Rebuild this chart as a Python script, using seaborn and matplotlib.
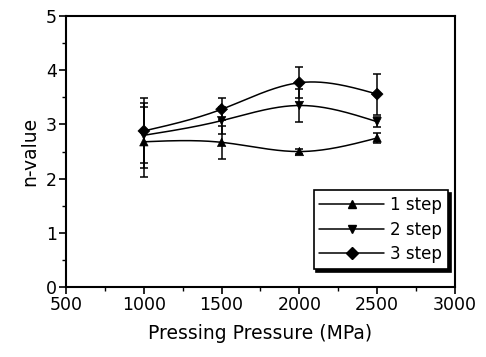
import numpy as np
import pandas as pd
import matplotlib
matplotlib.use("Agg")
import matplotlib.pyplot as plt
from matplotlib.lines import Line2D
import seaborn as sns

pressure = [1000, 1500, 2000, 2500]
step1 = [2.68, 2.67, 2.50, 2.75]
step2 = [2.80, 3.07, 3.35, 3.05]
step3 = [2.88, 3.28, 3.77, 3.56]
err1 = [0.65, 0.30, 0.05, 0.10]
err2 = [0.60, 0.25, 0.30, 0.09]
err3 = [0.60, 0.20, 0.29, 0.38]
labels = ["1 step", "2 step", "3 step"]
markers = ["^", "v", "D"]

sns.set_theme(style="ticks")
plt.rcParams["font.family"] = ["DejaVu Sans"]
plt.rcParams["text.color"] = "black"
plt.rcParams["axes.labelcolor"] = "black"

fig = plt.figure(figsize=(4.86, 3.57), dpi=100)
ax = fig.add_axes([0.136, 0.196, 0.800, 0.759])


def natural_spline(x, y, n=200):
    x = np.asarray(x, float)
    y = np.asarray(y, float)
    k = len(x)
    h = np.diff(x)
    A = np.zeros((k, k))
    b = np.zeros(k)
    A[0, 0] = A[-1, -1] = 1
    for i in range(1, k - 1):
        A[i, i - 1] = h[i - 1]
        A[i, i] = 2 * (h[i - 1] + h[i])
        A[i, i + 1] = h[i]
        b[i] = 6 * ((y[i + 1] - y[i]) / h[i] - (y[i] - y[i - 1]) / h[i - 1])
    M = np.linalg.solve(A, b)
    xs = np.linspace(x[0], x[-1], n)
    ys = np.empty_like(xs)
    for j, xv in enumerate(xs):
        i = min(np.searchsorted(x, xv, side="right") - 1, k - 2)
        t0 = x[i + 1] - xv
        t1 = xv - x[i]
        ys[j] = (M[i] * t0 ** 3 + M[i + 1] * t1 ** 3) / (6 * h[i]) \
            + (y[i] / h[i] - M[i] * h[i] / 6) * t0 \
            + (y[i + 1] / h[i] - M[i + 1] * h[i] / 6) * t1
    return xs, ys


series = [step1, step2, step3]
errs = [err1, err2, err3]
rows = []
for lab, vals in zip(labels, series):
    for p, v in zip(pressure, vals):
        rows.append({"pressure": p, "value": v, "series": lab})
df = pd.DataFrame(rows)

for vals, e in zip(series, errs):
    xs, ys = natural_spline(pressure, vals)
    ax.plot(xs, ys, color="black", lw=1.1, zorder=2)
    ax.errorbar(pressure, vals, yerr=e, fmt="none", ecolor="black",
                elinewidth=1.1, capsize=3, capthick=1.1, zorder=2)

sns.scatterplot(data=df, x="pressure", y="value", style="series",
                markers=dict(zip(labels, markers)), color="black",
                s=36, edgecolor="black", linewidth=0.5, legend=False,
                ax=ax, zorder=3)

ax.set_xlim(500, 3000)
ax.set_ylim(0, 5)
ax.set_xticks([500, 1000, 1500, 2000, 2500, 3000])
ax.set_xticks([750, 1250, 1750, 2250, 2750], minor=True)
ax.set_yticks([0, 1, 2, 3, 4, 5])
ax.set_yticks([0.5, 1.5, 2.5, 3.5, 4.5], minor=True)
ax.tick_params(axis="both", which="major", direction="out", length=5,
               width=1.2, labelsize=12.5, colors="black", pad=1.5)
ax.tick_params(axis="both", which="minor", direction="out", length=3,
               width=1.0, colors="black")
for s in ax.spines.values():
    s.set_linewidth(1.5)
    s.set_color("black")
ax.set_xlabel("Pressing Pressure (MPa)", fontsize=13.5, labelpad=7,
              color="black")
ax.set_ylabel("n-value", fontsize=13.5, labelpad=5, color="black")

handles = [Line2D([0], [0], color="black", lw=1.1, marker=m, markersize=6,
                  markerfacecolor="black") for m in markers]
leg = ax.legend(handles, labels, loc="lower right",
                bbox_to_anchor=(0.982, 0.066), fontsize=12, frameon=True,
                fancybox=False, shadow={"color": "black", "alpha": 1.0},
                edgecolor="black", handlelength=3.9, handletextpad=0.35,
                borderpad=0.35, labelspacing=0.4, borderaxespad=0)
leg.get_frame().set_linewidth(1.2)
for t in leg.get_texts():
    t.set_color("black")

fig.savefig("out.png", dpi=100)
